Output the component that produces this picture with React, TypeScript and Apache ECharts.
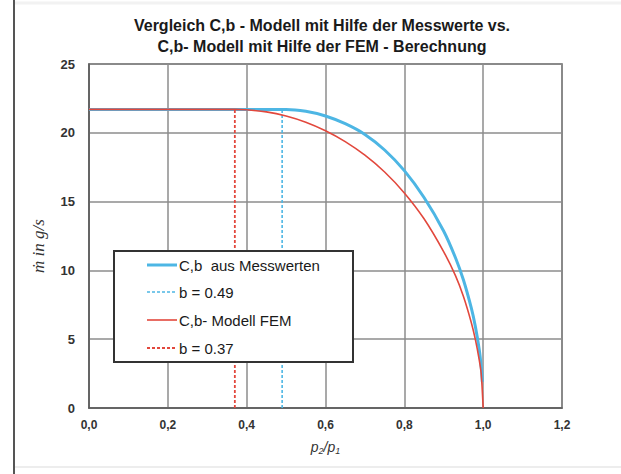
import React, { useEffect, useRef } from "react";
import * as echarts from "echarts";

// ---- data ----
const titleLines = [
  "Vergleich C,b - Modell mit Hilfe der Messwerte vs.",
  "C,b- Modell mit Hilfe der FEM - Berechnung",
];
const legendLabels = ["C,b  aus Messwerten", "b = 0.49", "C,b- Modell FEM", "b = 0.37"];

const blueX = [0, 0.49, 0.5, 0.55, 0.6, 0.65, 0.7, 0.75, 0.8, 0.85, 0.9, 0.93, 0.95, 0.97, 0.98, 0.99, 0.995, 0.998];
const blueY = [21.7, 21.7, 21.7, 21.56, 21.22, 20.66, 19.88, 18.75, 17.25, 15.3, 12.85, 10.9, 9.3, 7.25, 5.95, 4.25, 3.0, 1.9];

const redX = [0, 0.37, 0.4, 0.45, 0.5, 0.55, 0.6, 0.65, 0.7, 0.75, 0.8, 0.85, 0.9, 0.93, 0.95, 0.97, 0.98, 0.99, 0.995, 1.0];
const redY = [21.7, 21.7, 21.67, 21.52, 21.22, 20.77, 20.15, 19.36, 18.37, 17.15, 15.63, 13.75, 11.35, 9.6, 8.1, 6.2, 5.0, 3.5, 2.5, 0];

const blueBX = [0.49, 0.49];
const blueBY = [0, 21.7];
const redBX = [0.37, 0.37];
const redBY = [0, 21.7];

const xTicks = [0, 0.2, 0.4, 0.6, 0.8, 1.0, 1.2];
const yTicks = [0, 5, 10, 15, 20, 25];

const BLUE = "#4db6e4";
const RED = "#e2483d";

const zip = (xs: number[], ys: number[]) => xs.map((x, i) => [x, ys[i]]);

export default function App() {
  const ref = useRef<HTMLDivElement>(null);
  useEffect(() => {
    if (!ref.current) return;
    const chart = echarts.init(ref.current, undefined, { renderer: "svg" });
    const sans = "'Liberation Sans', Arial, sans-serif";
    const rowY = [265, 292, 320, 348];
    const legendStyles = [
      { color: BLUE, width: 3, dash: null as any },
      { color: BLUE, width: 1.6, dash: [3, 2] },
      { color: RED, width: 1.6, dash: null as any },
      { color: RED, width: 1.8, dash: [3, 2] },
    ];
    const legendChildren: any[] = [
      {
        type: "rect",
        z: 100,
        shape: { x: 114, y: 251, width: 239, height: 111 },
        style: { fill: "#ffffff", stroke: "#333333", lineWidth: 2 },
      },
    ];
    legendLabels.forEach((lab, i) => {
      const s = legendStyles[i];
      legendChildren.push({
        type: "line",
        z: 101,
        shape: { x1: 147, y1: rowY[i], x2: 177, y2: rowY[i] },
        style: { stroke: s.color, lineWidth: s.width, lineDash: s.dash || undefined },
      });
      legendChildren.push({
        type: "text",
        z: 101,
        x: 179,
        y: rowY[i],
        style: {
          text: lab,
          fill: "#1a1a1a",
          font: `15px ${sans}`,
          textAlign: "left",
          textVerticalAlign: "middle",
        },
      });
    });

    const smoothOpts = { smooth: 0.3 };

    chart.setOption({
      animation: false,
      backgroundColor: "#ffffff",
      title: {
        text: titleLines.join("\n"),
        left: 317,
        top: 10,
        textAlign: "center",
        textStyle: {
          fontFamily: sans,
          fontSize: 16,
          fontWeight: "bold",
          color: "#1a1a1a",
          lineHeight: 21,
        },
      },
      grid: {
        left: 89,
        right: 59,
        top: 64,
        bottom: 66,
        show: true,
        borderColor: "#595959",
        borderWidth: 1.5,
      },
      xAxis: {
        type: "value",
        min: xTicks[0],
        max: xTicks[xTicks.length - 1],
        interval: 0.2,
        name: "{i|p}{s|2}{i|/p}{s|1}",
        nameLocation: "middle",
        nameGap: 30,
        nameTextStyle: {
          rich: {
            i: { fontFamily: sans, fontStyle: "italic", fontSize: 14, color: "#333", lineHeight: 18 },
            s: { fontFamily: sans, fontStyle: "italic", fontSize: 9, color: "#333", lineHeight: 18, padding: [8, 0, 0, 0] },
          },
        },
        axisLine: { show: true, lineStyle: { color: "#595959", width: 1.5 } },
        axisTick: { show: false },
        splitLine: { show: true, lineStyle: { color: "#8c8c8c", width: 1.5 } },
        axisLabel: {
          margin: 11,
          fontFamily: sans,
          fontSize: 12,
          fontWeight: "bold",
          color: "#333",
          formatter: (v: number) => v.toFixed(1).replace(".", ","),
        },
      },
      yAxis: {
        type: "value",
        min: yTicks[0],
        max: yTicks[yTicks.length - 1],
        interval: 5,
        name: "ṁ in g/s",
        nameLocation: "middle",
        nameGap: 42,
        nameRotate: 90,
        nameTextStyle: {
          fontFamily: "'Liberation Serif', 'DejaVu Serif', serif",
          fontStyle: "italic",
          fontSize: 17,
          color: "#333",
          padding: [0, 20, 0, 0],
        },
        axisLine: { show: true, lineStyle: { color: "#595959", width: 1.5 } },
        axisTick: { show: false },
        splitLine: { show: true, lineStyle: { color: "#8c8c8c", width: 1.5 } },
        axisLabel: {
          margin: 14,
          fontFamily: sans,
          fontSize: 13,
          fontWeight: "bold",
          color: "#333",
        },
      },
      series: [
        {
          name: legendLabels[0],
          type: "line",
          data: zip(blueX, blueY),
          symbol: "none",
          ...smoothOpts,
          lineStyle: { color: BLUE, width: 3 },
          z: 3,
        },
        {
          name: legendLabels[1],
          type: "line",
          data: zip(blueBX, blueBY),
          symbol: "none",
          lineStyle: { color: BLUE, width: 1.6, type: [3, 2] },
          z: 3,
        },
        {
          name: legendLabels[2],
          type: "line",
          data: zip(redX, redY),
          symbol: "none",
          ...smoothOpts,
          lineStyle: { color: RED, width: 1.6 },
          z: 4,
        },
        {
          name: legendLabels[3],
          type: "line",
          data: zip(redBX, redBY),
          symbol: "none",
          lineStyle: { color: RED, width: 1.8, type: [3, 2] },
          z: 4,
        },
      ],
      graphic: [
        {
          type: "line",
          z: 50,
          shape: { x1: 14, y1: 0, x2: 14, y2: 474 },
          style: { stroke: "#555555", lineWidth: 2 },
        },
        {
          type: "line",
          z: 50,
          shape: { x1: 15, y1: 467, x2: 621, y2: 467 },
          style: { stroke: "#ededed", lineWidth: 2 },
        },
        {
          type: "line",
          z: 50,
          shape: { x1: 15, y1: 3, x2: 621, y2: 3 },
          style: { stroke: "#f2f2f2", lineWidth: 3 },
        },
        { type: "group", z: 100, children: legendChildren },
      ],
    });
    return () => chart.dispose();
  }, []);
  return (
    <div
      ref={ref}
      style={{ position: "fixed", left: 0, top: 0, width: 621, height: 474 }}
    />
  );
}
